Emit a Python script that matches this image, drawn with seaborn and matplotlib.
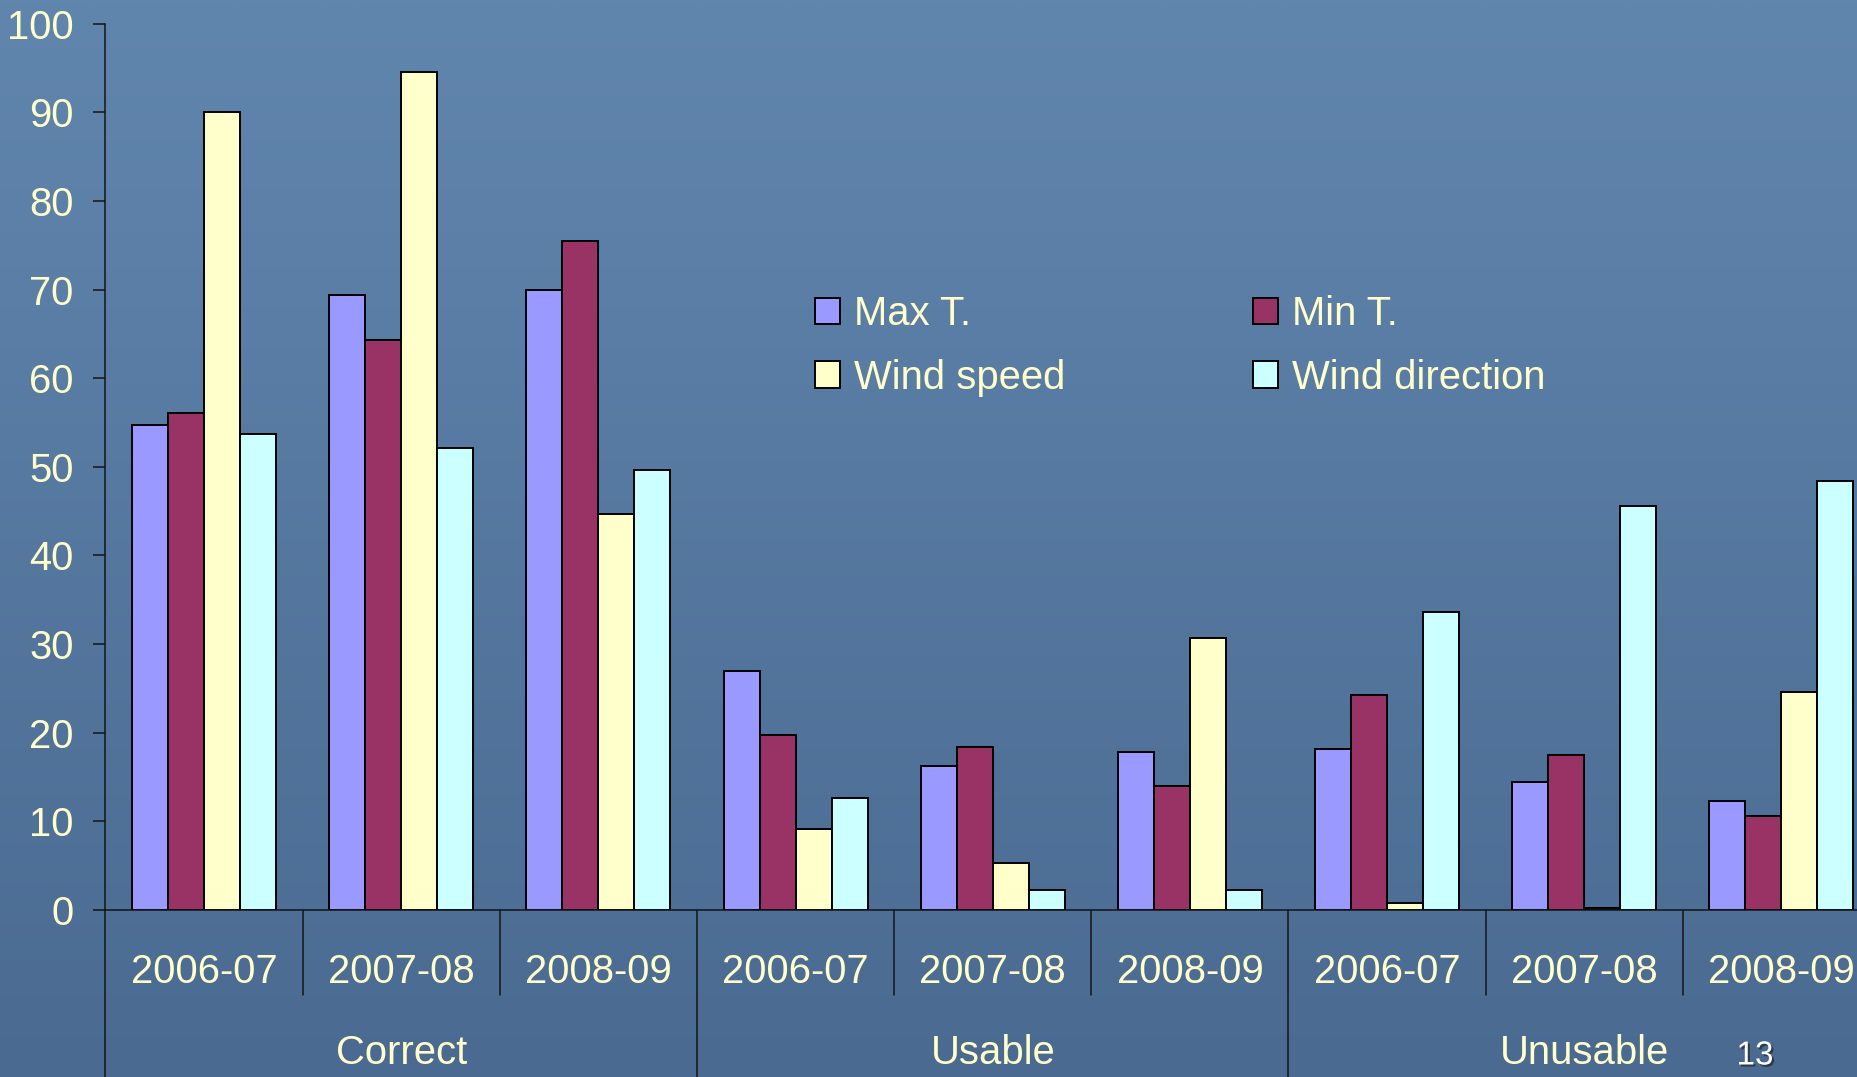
import numpy as np
import pandas as pd
import matplotlib
matplotlib.use("Agg")
import matplotlib.pyplot as plt
import matplotlib.patheffects as pe
from matplotlib import transforms
from matplotlib.colors import to_rgb
import seaborn as sns

# ---- data -------------------------------------------------------------
groups = ["Correct", "Usable", "Unusable"]
seasons = ["2006-07", "2007-08", "2008-09"]
variables = ["Max T.", "Min T.", "Wind speed", "Wind direction"]

max_t = [54.7, 69.4, 69.9, 27.0, 16.3, 17.8, 18.2, 14.4, 12.3]
min_t = [56.1, 64.3, 75.5, 19.7, 18.4, 14.0, 24.3, 17.5, 10.6]
wind_speed = [90.0, 94.5, 44.7, 9.1, 5.3, 30.7, 0.8, 0.2, 24.6]
wind_direction = [53.7, 52.1, 49.6, 12.6, 2.3, 2.3, 33.6, 45.6, 48.4]

y_ticks = list(range(0, 101, 10))
page_number = "13"

bar_colors = ["#9999FF", "#993366", "#FFFFCC", "#CCFFFF"]
text_color = "#FFFFCC"
line_color = "#151515"

# long-form table: one row per bar
slots = [f"{g} {s}" for g in groups for s in seasons]
series = dict(zip(variables, [max_t, min_t, wind_speed, wind_direction]))
df = pd.DataFrame(
    [(slot, var, vals[i]) for var, vals in series.items() for i, slot in enumerate(slots)],
    columns=["slot", "variable", "value"],
)

# ---- style ------------------------------------------------------------
sns.set_theme(style="white")
plt.rcParams["font.family"] = ["Liberation Sans", "DejaVu Sans"]
FS = 28.8

W, H = 1858, 1077
fig = plt.figure(figsize=(W / 100, H / 100), dpi=100)

# slide background: vertical blue gradient
bg = fig.add_axes([0, 0, 1, 1], zorder=0)
top, bottom = np.array(to_rgb("#6186ae")), np.array(to_rgb("#4a6a91"))
t = np.linspace(0, 1, 256)[:, None, None]
grad = top * (1 - t) + bottom * t
grad = np.repeat(grad, 4, axis=1)
bg.imshow(grad, aspect="auto", extent=[0, 1, 0, 1], interpolation="bilinear")
bg.axis("off")

ax = fig.add_axes([105.5 / W, 167 / H, 1774.5 / W, 886.3 / H], zorder=1)
ax.set_facecolor("none")

sns.barplot(
    data=df, x="slot", y="value", hue="variable",
    order=slots, hue_order=variables, palette=bar_colors,
    width=0.73, gap=0, saturation=1, errorbar=None,
    edgecolor="black", linewidth=1.4, ax=ax,
)

ax.set_xlim(-0.5, len(slots) - 0.5)
ax.set_ylim(0, 100)
ax.set_yticks(y_ticks)
ax.set_xticks(range(len(slots)))
ax.set_xticklabels([])
ax.set_xlabel("")
ax.set_ylabel("")
ax.tick_params(axis="y", direction="out", length=9, width=1.1, color=line_color,
               labelsize=FS, labelcolor=text_color, pad=14, left=True)
ax.tick_params(axis="x", length=0)
sns.despine(ax=ax)
for side in ("left", "bottom"):
    ax.spines[side].set_color(line_color)
    ax.spines[side].set_linewidth(1.1)

# two-level category axis: seasons under each bar group, quality class below
trans = transforms.blended_transform_factory(ax.transData, ax.transAxes)
for i in range(len(slots) + 1):
    y_end = -0.19 if i % len(seasons) == 0 else -0.096
    ax.plot([i - 0.5, i - 0.5], [0, y_end], transform=trans, clip_on=False,
            color=line_color, lw=1.1)
for i, slot in enumerate(slots):
    ax.text(i, -0.0705, seasons[i % len(seasons)], transform=trans,
            ha="center", va="center", fontsize=FS, color=text_color)
for g, name in enumerate(groups):
    ax.text(g * len(seasons) + 1, -0.161, name, transform=trans,
            ha="center", va="center", fontsize=FS, color=text_color)

# legend: two columns, Max/Wind speed on the left, Min/Wind direction on the right
handles, labels = ax.get_legend_handles_labels()
if ax.get_legend() is not None:
    ax.get_legend().remove()
order = [0, 2, 1, 3]
fig.legend(
    [handles[i] for i in order], [labels[i] for i in order],
    loc="upper left", bbox_to_anchor=(815 / W, 1 - 295 / H),
    ncol=2, frameon=False, fontsize=FS, labelcolor=text_color,
    handlelength=0.62, handleheight=0.65, handletextpad=0.35,
    columnspacing=4.7, labelspacing=0.64, borderpad=0, borderaxespad=0,
)

fig.text(1755 / W, 1 - 1056 / H, page_number, ha="center", va="center",
         fontsize=24, color="white",
         path_effects=[pe.withSimplePatchShadow(offset=(1.5, -1.5),
                                                shadow_rgbFace="#1a1a1a", alpha=0.6)])

fig.savefig("out.png", dpi=100)
